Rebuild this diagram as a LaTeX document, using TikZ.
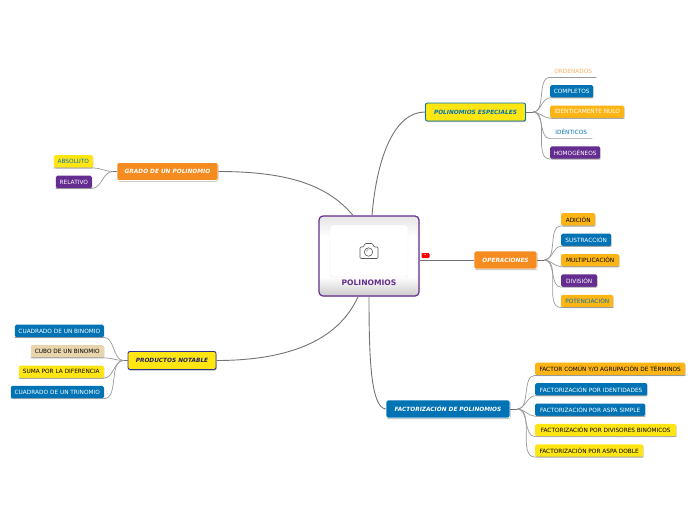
\documentclass[tikz,border=0pt]{standalone}
\usepackage{fontspec}
\setmainfont{DejaVu Sans}
\usetikzlibrary{positioning, shadows}

\definecolor{mmblue}{HTML}{0073B5}
\definecolor{mmpurple}{HTML}{662D91}
\definecolor{mmamber}{HTML}{FDB515}
\definecolor{mmyellow}{HTML}{FFE512}
\definecolor{mmorange}{HTML}{F68B1F}
\definecolor{mmtan}{HTML}{E8D5AC}
\definecolor{mmnavy}{HTML}{2E3192}
\definecolor{mmline}{HTML}{999999}

\pgfdeclareverticalshading{centralshade}{100bp}{
  color(0bp)=(black!20); color(25bp)=(black!20); color(37bp)=(white); color(62bp)=(white); color(75bp)=(black!10); color(100bp)=(black!10)}

\begin{document}
\begin{tikzpicture}[
  x=1pt, y=-1pt,
  node distance=7.5pt,
  chip/.style={rounded corners=1.5pt, minimum height=12.5pt, inner sep=0pt, font=\fontsize{5.8}{6}\selectfont,
    drop shadow={shadow xshift=0.5pt, shadow yshift=-0.8pt, fill=black!35, opacity=0.6}},
  plain/.style={minimum height=12.5pt, inner sep=0pt, font=\fontsize{5.8}{6}\selectfont},
  hub/.style={rounded corners=2pt, inner sep=0pt, font=\fontsize{5.8}{6}\selectfont\bfseries\itshape,
    drop shadow={shadow xshift=0.5pt, shadow yshift=-1pt, fill=black!40, opacity=0.7}},
  bigline/.style={draw=black!55, line width=0.9pt},
  kidline/.style={draw=mmline, line width=0.7pt}
]
\useasboundingbox (0,0) rectangle (696,520);

% centre
\node[draw=mmpurple, line width=1.2pt, rounded corners=4pt, minimum width=100pt, minimum height=80pt, shading=centralshade, drop shadow={shadow xshift=0.4pt, shadow yshift=-0.6pt, fill=black!30}] (central) at (369,256) {};
\node[draw=black!8, fill=white, rounded corners=2.5pt, minimum width=78pt, minimum height=52pt, inner sep=0pt] (photo) at (369,251) {};
\node[font=\fontsize{7.6}{8}\selectfont\bfseries, text=mmpurple, inner sep=0pt] (title) at (369,282.5) {POLINOMIOS};

% camera
\draw[black!65, line width=0.6pt, rounded corners=1pt] (360,258.5) -- (360,247) -- (363.5,247) -- (365,243.5) -- (372.5,243.5) -- (374,247) -- (378,247) -- (378,258.5) -- cycle;
\draw[black!65, line width=0.6pt] (368.5,252) circle (4.2);
\draw[black!65, line width=0.4pt] (366.5,251.5) arc (180:270:2);

% main topics
\node[hub, draw=mmblue, line width=0.9pt, fill=mmyellow, text=mmblue, minimum width=100pt, minimum height=18pt] (especiales) at (475.5,112) {POLINOMIOS ESPECIALES};
\node[hub, draw=white, line width=0.8pt, fill=mmorange, text=white, minimum width=63pt, minimum height=18pt] (operaciones) at (505.5,260) {OPERACIONES};
\node[hub, draw=white, line width=0.8pt, fill=mmblue, text=white, minimum width=124pt, minimum height=18pt] (factorizacion) at (448,409) {FACTORIZACIÓN DE POLINOMIOS};
\node[hub, draw=mmnavy, line width=0.9pt, fill=mmyellow, text=mmnavy!70!black, minimum width=88pt, minimum height=18pt] (productos) at (172,360.5) {PRODUCTOS NOTABLE};
\node[hub, draw=white, line width=0.8pt, fill=mmorange, text=white, minimum width=101pt, minimum height=18pt] (grado) at (167.5,171.5) {GRADO DE UN POLINOMIO};

% especiales
\node[plain, minimum width=46pt, text=mmorange!70, anchor=north west] (ordenados) at (550,64.5) {ORDENADOS\hspace{5pt}};
\node[chip, fill=mmblue, text=white, minimum width=43pt, below=of ordenados.south west, anchor=north west] (completos) {COMPLETOS};
\node[chip, fill=mmamber, text=white, minimum width=74pt, below=of completos.south west, anchor=north west] (identicamente) {IDENTICAMENTE NULO};
\node[plain, text=mmblue, minimum width=42pt, below=of identicamente.south west, anchor=north west] (identicos) {IDÉNTICOS};
\node[chip, fill=mmpurple, text=white, minimum width=50pt, below=of identicos.south west, anchor=north west] (homogeneos) {HOMOGÉNEOS};

% operaciones
\node[chip, fill=mmamber, text=black, minimum width=34pt, anchor=north west] (adicion) at (561,213) {ADICIÓN};
\node[chip, fill=mmblue, text=white, minimum width=50pt, below=of adicion.south west, anchor=north west] (sustraccion) {SUSTRACCIÓN};
\node[chip, fill=mmamber, text=black, minimum width=58pt, below=of sustraccion.south west, anchor=north west] (multiplicacion) {MULTIPLICACIÓN};
\node[chip, fill=mmpurple, text=white, minimum width=36pt, below=of multiplicacion.south west, anchor=north west] (division) {DIVISIÓN};
\node[chip, fill=mmamber, text=mmblue, minimum width=52pt, below=of division.south west, anchor=north west] (potenciacion) {POTENCIACIÓN};

% factorizacion
\node[chip, fill=mmamber, text=black, minimum width=150pt, anchor=north west] (comun) at (535,362.5) {FACTOR COMÚN Y/O AGRUPACIÓN DE TÉRMINOS};
\node[chip, fill=mmblue, text=white, minimum width=112pt, below=of comun.south west, anchor=north west] (identidades) {FACTORIZACIÓN POR IDENTIDADES};
\node[chip, fill=mmblue, text=white, minimum width=110pt, below=of identidades.south west, anchor=north west] (simple) {FACTORIZACIÓN POR ASPA SIMPLE};
\node[chip, fill=mmyellow, text=black, minimum width=141pt, below=of simple.south west, anchor=north west] (divisores) {FACTORIZACIÓN POR DIVISORES BINÓMICOS};
\node[chip, fill=mmyellow, text=black, minimum width=108pt, below=of divisores.south west, anchor=north west] (doble) {FACTORIZACIÓN POR ASPA DOBLE};

% productos
\node[chip, fill=mmblue, text=white, minimum width=89pt, anchor=north east] (binomio) at (104,324.5) {CUADRADO DE UN BINOMIO};
\node[chip, fill=mmtan, text=black, minimum width=73pt, below=of binomio.south east, anchor=north east] (cubo) {CUBO DE UN BINOMIO};
\node[chip, fill=mmyellow, text=black, minimum width=85pt, below=of cubo.south east, anchor=north east] (suma) {SUMA POR LA DIFERENCIA};
\node[chip, fill=mmblue, text=white, minimum width=93pt, below=of suma.south east, anchor=north east] (trinomio) {CUADRADO DE UN TRINOMIO};

% grado
\node[chip, fill=mmyellow, text=mmblue, minimum width=39pt, anchor=north east] (absoluto) at (93,155) {ABSOLUTO};
\node[chip, fill=mmpurple, text=white, minimum width=36pt, anchor=north east] (relativo) at (92,175.5) {RELATIVO};

% marker
\node[fill=red, rounded corners=1.2pt, minimum width=8pt, minimum height=5pt, inner sep=0pt, text=white, font=\fontsize{5}{5}\selectfont\bfseries] (fold) at (425.5,255.5) {-};

% connectors from centre
\draw[bigline] (central.north) ++(3,0) .. controls +(5,-60) and +(-30,0) .. (especiales.west);
\draw[bigline] (central.east |- operaciones.west) -- (operaciones.west);
\draw[bigline] (central.south) .. controls +(0,60) and +(-15,-2) .. (factorizacion.west);
\draw[bigline] (central.south) ++(-11,0) .. controls +(-20,45) and +(70,0) .. (productos.east);
\draw[bigline] (central.north) ++(-16,0) .. controls +(-25,-30) and +(70,0) .. (grado.east);

% branches, right hand side
\foreach \from/\kids in {especiales/{ordenados,completos,identicamente,identicos,homogeneos},
                         operaciones/{adicion,sustraccion,multiplicacion,division,potenciacion},
                         factorizacion/{comun,identidades,simple,divisores,doble}} {
  \draw[bigline] (\from.east) -- ++(7,0) coordinate (fork);
  \foreach \kid in \kids {
    \draw[kidline] (fork) to[out=0, in=180, looseness=0.9] (\kid.south west) -- (\kid.south east);
  }
}
% branches, left hand side
\foreach \from/\kids in {productos/{binomio,cubo,suma,trinomio}, grado/{absoluto,relativo}} {
  \draw[bigline] (\from.west) -- ++(-4,0) coordinate (fork);
  \foreach \kid in \kids {
    \draw[kidline] (fork) to[out=180, in=0, looseness=0.9] (\kid.south east) -- (\kid.south west);
  }
}
\end{tikzpicture}
\end{document}
